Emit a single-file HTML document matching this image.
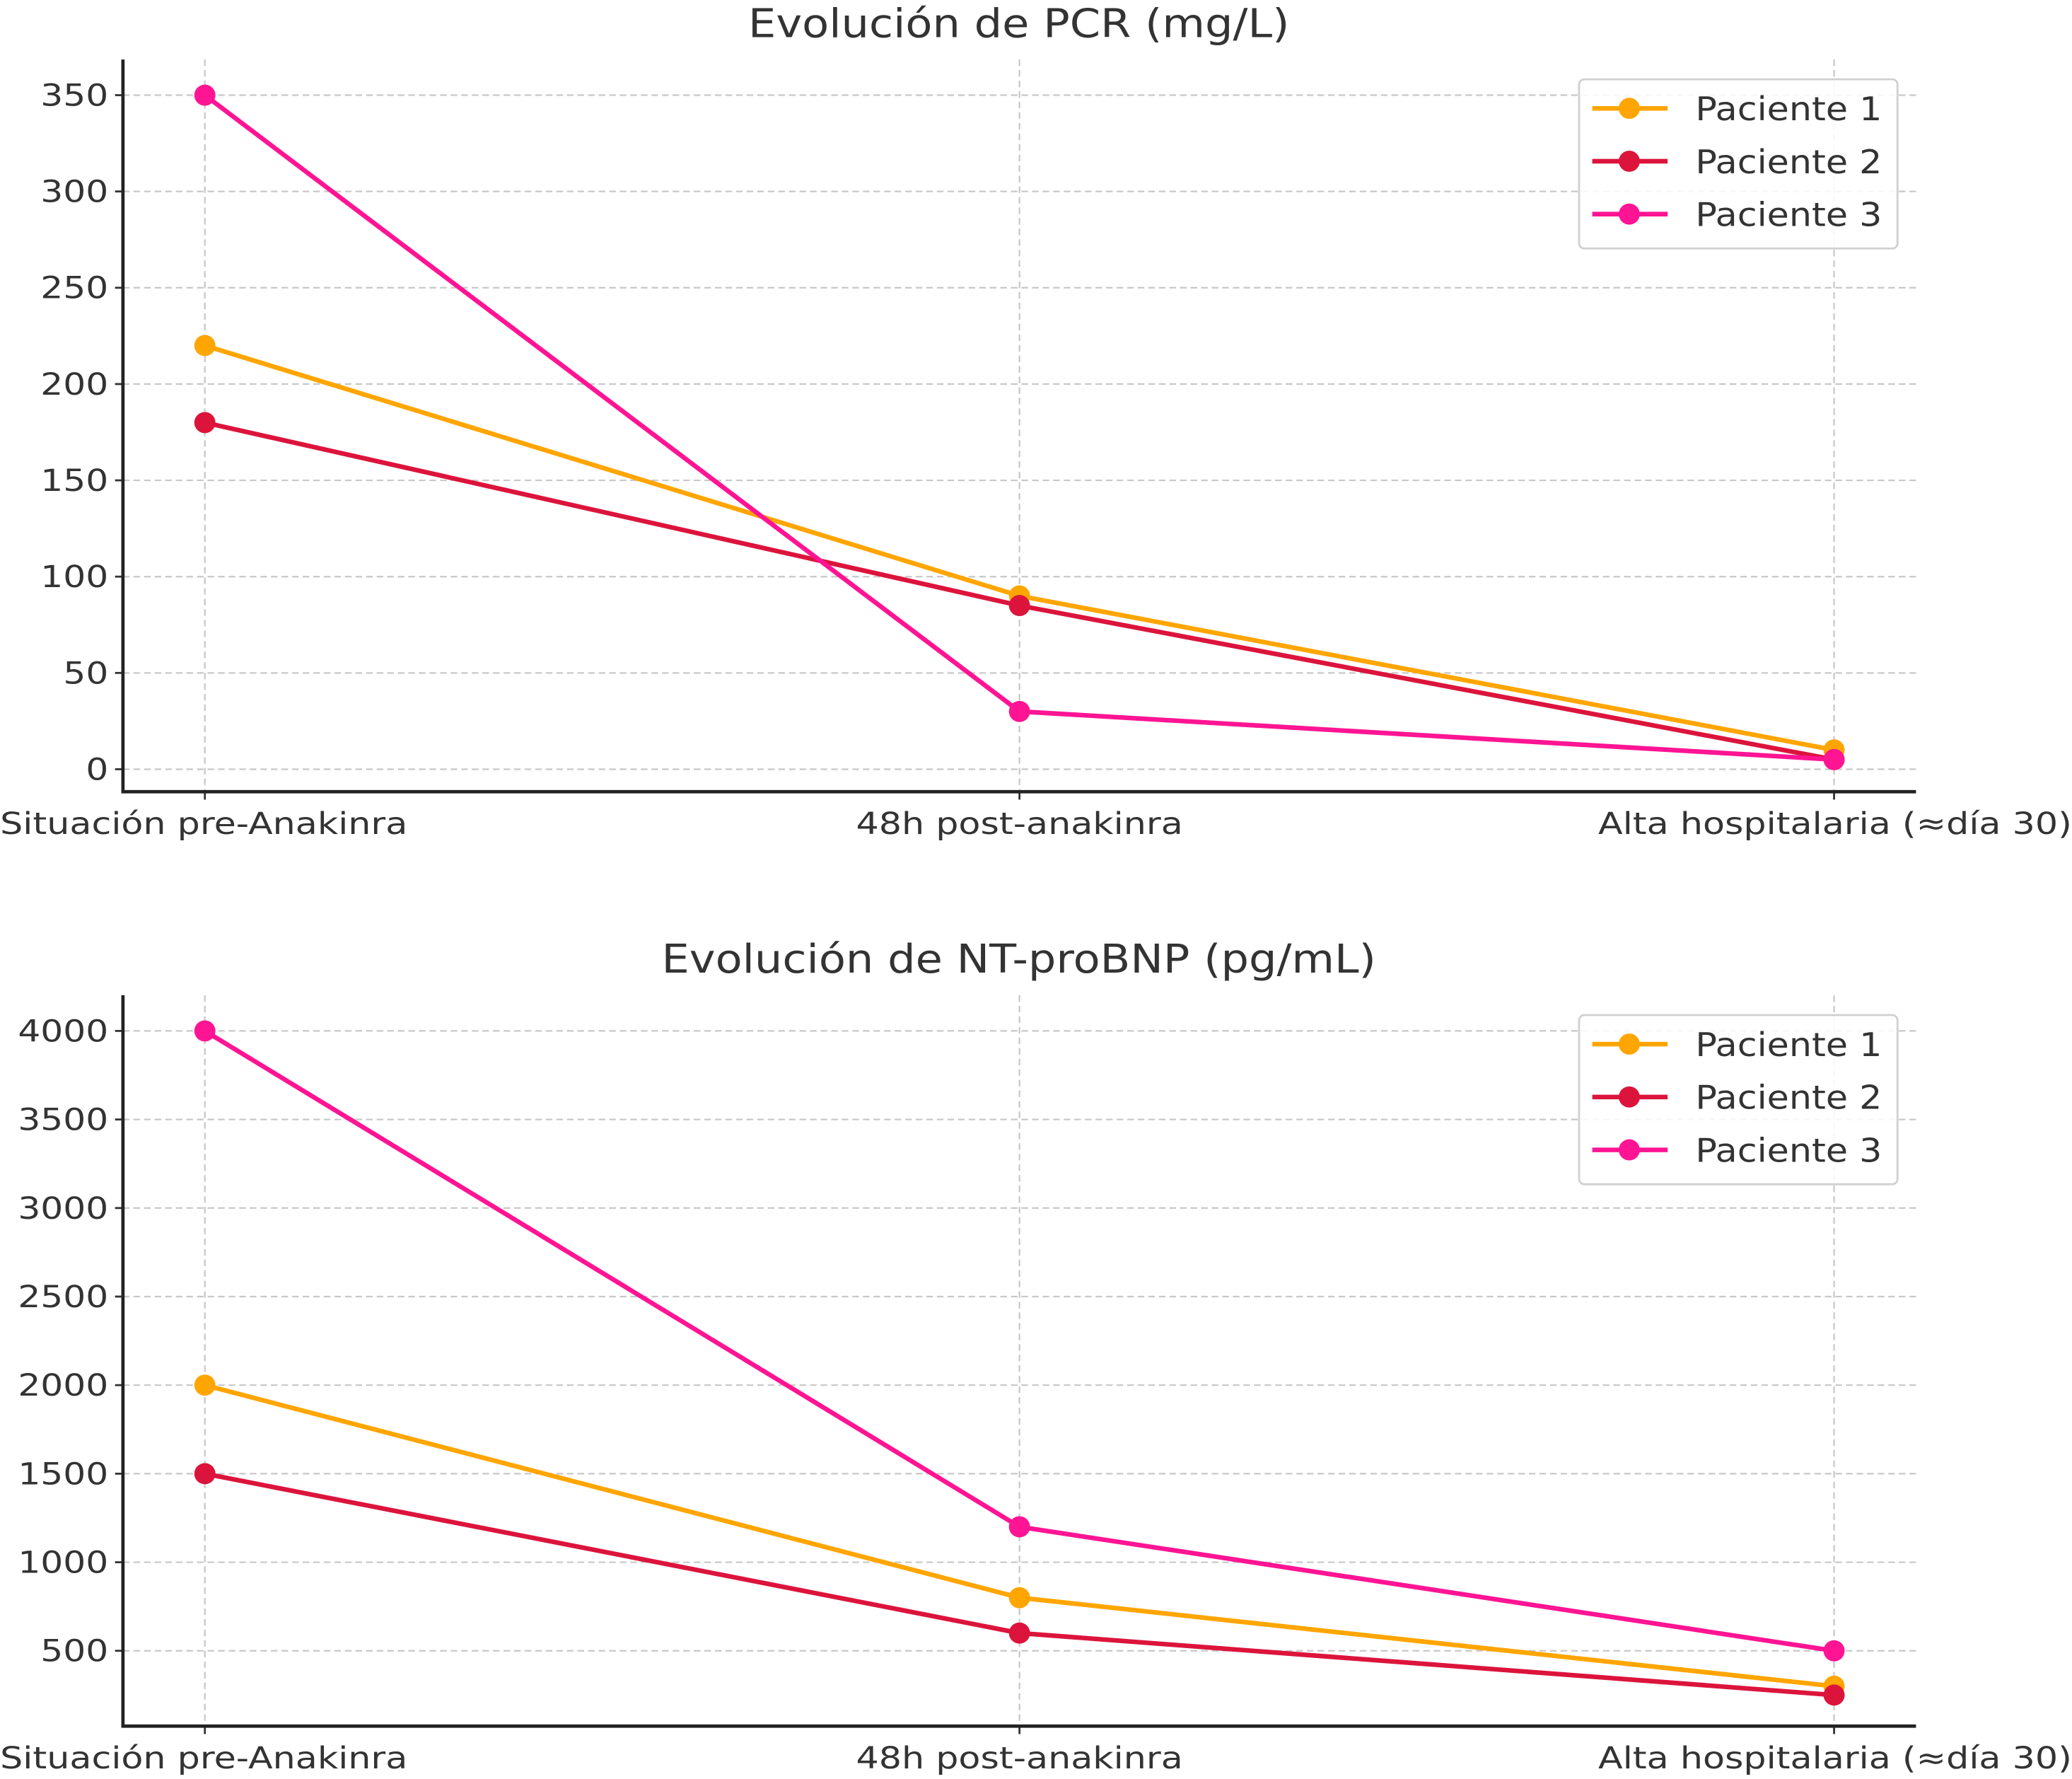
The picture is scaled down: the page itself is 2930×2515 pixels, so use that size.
<!DOCTYPE html>
<html><head><meta charset="utf-8"><style>
html,body{margin:0;padding:0;background:#fff}
svg{display:block}
text{font-family:"DejaVu Sans","Liberation Sans",sans-serif;fill:#333}
</style></head><body>
<svg id="chart" xmlns="http://www.w3.org/2000/svg" width="2930" height="2515" viewBox="0 0 1568 1346"></svg>
<script>
const categories = ["Situación pre-Anakinra", "48h post-anakinra", "Alta hospitalaria (≈día 30)"];
const seriesNames = ["Paciente 1", "Paciente 2", "Paciente 3"];
const pcrP1 = [220, 90, 10];
const pcrP2 = [180, 85, 5];
const pcrP3 = [350, 30, 5];
const bnpP1 = [2000, 800, 300];
const bnpP2 = [1500, 600, 250];
const bnpP3 = [4000, 1200, 500];
const pcrTicks = [0, 50, 100, 150, 200, 250, 300, 350];
const bnpTicks = [500, 1000, 1500, 2000, 2500, 3000, 3500, 4000];
const colors = ["#FFA500", "#DC143C", "#FF1493"];

const NS = "http://www.w3.org/2000/svg";
const svg = document.getElementById("chart");
function mk(tag, attrs, parent, txt) {
  const e = document.createElementNS(NS, tag);
  for (const k in attrs) e.setAttribute(k, attrs[k]);
  if (txt !== undefined) e.textContent = txt;
  (parent || svg).appendChild(e);
  return e;
}
function stretch(t, f) {
  const L = t.getComputedTextLength();
  t.setAttribute("textLength", (L * f).toFixed(1));
  t.setAttribute("lengthAdjust", "spacingAndGlyphs");
}
const xPos = i => 155 + i * 616.5;

function panel(opts) {
  const g = mk("g", {});
  
  
  const y = v => opts.y0 + (v - opts.v0) * (opts.y1 - opts.y0) / (opts.v1 - opts.v0);
  const t = mk("text", {x: 771, y: opts.top - 17, "text-anchor": "middle", "font-size": 30}, g, opts.title);
  
  
  stretch(t, 1.11);
  opts.ticks.forEach(v => {
    const l = mk("line", {x1: 93, x2: 1450, y1: y(v), y2: y(v), stroke: "#c8c8c8", "stroke-width": 1.2, "stroke-dasharray": "5,3"}, g);
    
    
    const lt = mk("text", {x: 82, y: y(v) + 8, "text-anchor": "end", "font-size": 23}, g, String(v));
    
    
    stretch(lt, 1.17);
    mk("line", {x1: 87, x2: 93, y1: y(v), y2: y(v), stroke: "#333", "stroke-width": 1.5}, g);
  });
  categories.forEach((c, i) => {
    const l = mk("line", {x1: xPos(i), x2: xPos(i), y1: opts.top, y2: opts.bottom, stroke: "#c8c8c8", "stroke-width": 1.2, "stroke-dasharray": "5,3"}, g);
    
    
    const anchor = i === 0 ? "start" : (i === 2 ? "end" : "middle");
    const xx = i === 0 ? 0 : (i === 2 ? 1568 : xPos(i));
    const lt = mk("text", {x: xx, y: opts.bottom + 32, "text-anchor": anchor, "font-size": 23}, g, c);
    
    
    stretch(lt, 1.18);
    mk("line", {x1: xPos(i), x2: xPos(i), y1: opts.bottom, y2: opts.bottom + 6, stroke: "#333", "stroke-width": 1.5}, g);
  });
  const ax = mk("path", {d: `M93 ${opts.top} V${opts.bottom} H1450`, fill: "none", stroke: "#222", "stroke-width": 2.5}, g);
  
  
  opts.series.forEach((s, si) => {
    const pts = s.map((v, i) => xPos(i) + "," + y(v)).join(" ");
    const pl = mk("polyline", {points: pts, fill: "none", stroke: colors[si], "stroke-width": 3.5}, g);
    
    
    s.forEach((v, i) => {
      const c = mk("circle", {cx: xPos(i), cy: y(v), r: 8, fill: colors[si]}, g);
      
      
    });
  });
  const lg = mk("g", {}, g);
  
  
  const ly = opts.top + 15;
  mk("rect", {x: 1195, y: ly, width: 241, height: 128, rx: 4, fill: "#fff", "fill-opacity": 0.85, stroke: "#d0d0d0", "stroke-width": 1.5}, lg);
  seriesNames.forEach((n, si) => {
    const ey = ly + 22 + si * 40;
    const e = mk("g", {}, lg);
    
    
    mk("line", {x1: 1205, x2: 1262, y1: ey, y2: ey, stroke: colors[si], "stroke-width": 3.5}, e);
    mk("circle", {cx: 1233, cy: ey, r: 8, fill: colors[si]}, e);
    const lt = mk("text", {x: 1283, y: ey + 9, "font-size": 25}, e, n);
    stretch(lt, 1.085);
  });
}
panel({name: "pcr-chart", title: "Evolución de PCR (mg/L)", top: 45, bottom: 599, v0: 0, y0: 582, v1: 350, y1: 72, ticks: pcrTicks, series: [pcrP1, pcrP2, pcrP3]});
panel({name: "ntprobnp-chart", title: "Evolución de NT-proBNP (pg/mL)", top: 753, bottom: 1306, v0: 500, y0: 1249, v1: 4000, y1: 780, ticks: bnpTicks, series: [bnpP1, bnpP2, bnpP3]});
</script>
</body></html>
